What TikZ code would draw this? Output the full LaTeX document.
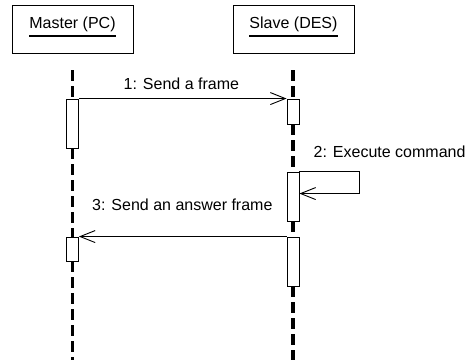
\documentclass[tikz,border=0pt]{standalone}
\usepackage{fontspec}
\setmainfont{Liberation Sans}
\usepackage{tikz}
\usetikzlibrary{arrows.meta, positioning}

% object name with a heavier underline
\newcommand\objname[1]{\setbox0\hbox{#1}\rlap{\rule[-8.3pt]{\wd0}{1.6pt}}\box0}

\tikzset{
  head/.style={draw, line width=0.9pt, minimum width=121pt, minimum height=48pt, inner sep=0pt},
  act/.style={draw, fill=white, line width=0.9pt, minimum width=12pt, inner sep=0pt},
  lifeline/.style={line width=3.6pt, dash pattern=on 11pt off 5pt},
  msg/.style={line width=0.9pt, -{Straight Barb[length=15pt, width=12pt, line width=0.9pt]}},
  txt/.style={font=\fontsize{16}{19}\selectfont, inner sep=0pt, anchor=base west}
}

\begin{document}
\begin{tikzpicture}[x=1pt, y=-1pt]
\useasboundingbox (0,0) rectangle (469,360);

% objects
\node[head] (master) at (72.5,29) {};
\node[txt, anchor=base] (masterlbl) at (72.5,28.5) {\objname{Master (PC)}};
\node[head] (slave) at (293.5,29) {};
\node[txt, anchor=base] (slavelbl) at (293.5,28.5) {\objname{Slave (DES)}};

% activation bars
\node[act, minimum height=49pt] (m1) at (72.5,123.5) {};
\node[act, minimum height=24pt] (m2) at (72.5,249) {};
\node[act, minimum height=25pt] (s1) at (293,111.5) {};
\node[act, minimum height=49pt] (s2) at (293,196.5) {};
\node[act, minimum height=49pt] (s3) at (293,261.5) {};

\coordinate (mtop) at (72.5,70);
\coordinate (mbot) at (72.5,360);
\coordinate (stop) at (293,70);
\coordinate (sbot) at (293,360);

% lifelines
\draw[lifeline] (mtop) -- (m1.north);
\draw[lifeline] (m1.south) -- (m2.north);
\draw[lifeline] (m2.south) -- (mbot);
\draw[lifeline] (stop) -- (s1.north);
\draw[lifeline] (s1.south) -- (s2.north);
\draw[lifeline] (s2.south) -- (s3.north);
\draw[lifeline] (s3.south) -- (sbot);

% messages
\draw[msg] (m1.north east) -- (s1.north west);
\node[txt] (msg1) at (123.5,89) {1: Send a frame};

\draw[msg] (s2.north east) -- ++(60,0) -- ++(0,22) -- ++(-60,0);
\node[txt] (msg2) at (313.5,157.3) {2: Execute command};

\draw[msg] (s3.north west) -- (m2.north east);
\node[txt] (msg3) at (92,210) {3: Send an answer frame};
\end{tikzpicture}
\end{document}
